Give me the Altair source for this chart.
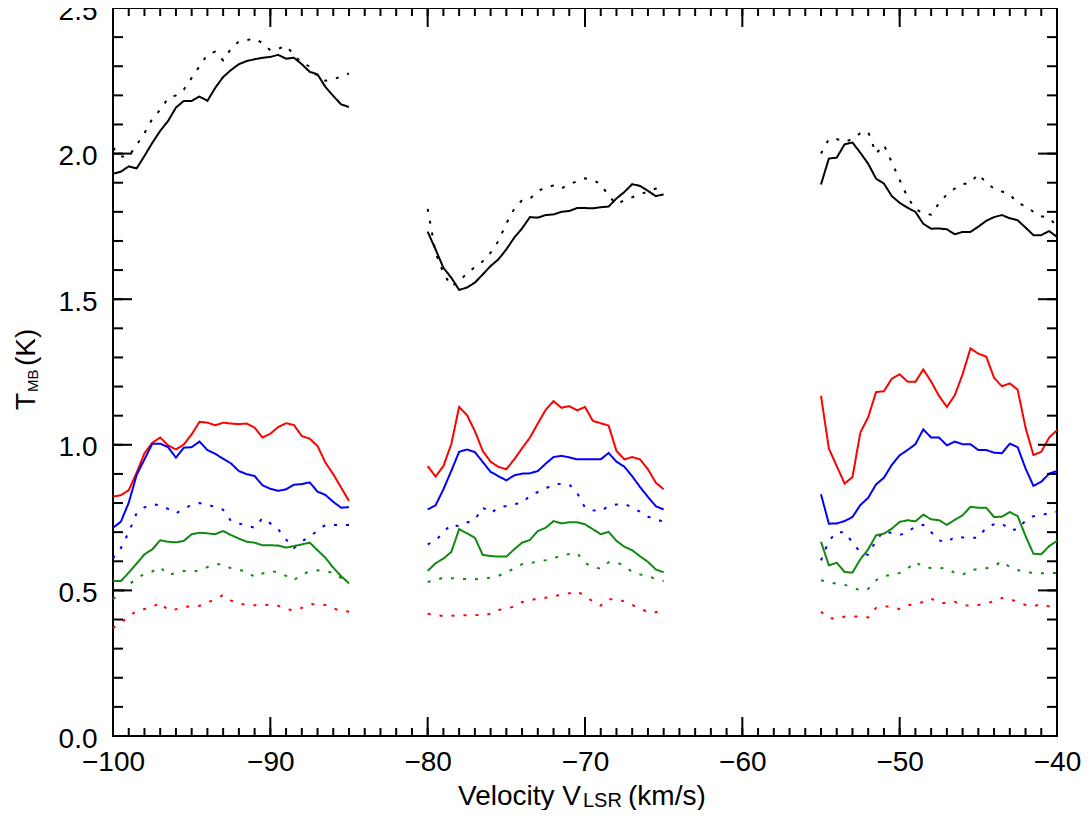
import altair as alt
import pandas as pd

# ---- data ----
SEG_START = [-100.0, -80.0, -55.0]   # first velocity of each observed segment
STEP = 0.5
NPTS = 31

BLACK_SOLID = [
    [1.931,1.938,1.956,1.949,1.992,2.037,2.078,2.112,2.158,2.181,2.181,2.196,2.181,2.226,2.263,2.287,2.307,2.318,2.324,2.329,2.332,2.339,2.326,2.329,2.307,2.281,2.272,2.229,2.198,2.169,2.160],
    [1.732,1.671,1.608,1.574,1.532,1.540,1.557,1.585,1.614,1.637,1.671,1.711,1.743,1.782,1.780,1.789,1.791,1.800,1.803,1.813,1.813,1.812,1.816,1.818,1.846,1.868,1.895,1.889,1.872,1.854,1.860],
    [1.894,1.983,1.986,2.032,2.038,2.003,1.965,1.914,1.897,1.854,1.831,1.814,1.800,1.759,1.742,1.743,1.740,1.723,1.731,1.731,1.749,1.769,1.782,1.789,1.778,1.771,1.746,1.720,1.720,1.734,1.714],
]
BLACK_DOTTED = [
    [2.02,1.99,1.99,2.03,2.07,2.12,2.15,2.19,2.20,2.22,2.26,2.30,2.34,2.35,2.32,2.36,2.385,2.39,2.395,2.38,2.355,2.36,2.37,2.34,2.31,2.30,2.265,2.25,2.255,2.265,2.275],
    [1.81,1.66,1.59,1.545,1.56,1.59,1.61,1.63,1.66,1.70,1.76,1.81,1.84,1.845,1.87,1.885,1.89,1.88,1.895,1.905,1.915,1.91,1.895,1.855,1.826,1.84,1.85,1.86,1.87,1.88,1.87],
    [2.00,2.05,2.05,2.04,2.05,2.07,2.075,2.00,2.03,1.97,1.91,1.85,1.81,1.795,1.79,1.83,1.86,1.88,1.895,1.90,1.93,1.90,1.88,1.87,1.86,1.83,1.82,1.80,1.785,1.78,1.75],
]
RED_SOLID = [
    [0.822,0.827,0.844,0.904,0.971,1.007,1.025,0.998,0.984,1.001,1.036,1.079,1.076,1.067,1.076,1.073,1.071,1.073,1.059,1.025,1.038,1.061,1.074,1.068,1.030,1.021,0.996,0.939,0.899,0.853,0.807],
    [0.927,0.891,0.927,1.002,1.130,1.102,1.047,0.979,0.942,0.924,0.916,0.950,0.988,1.025,1.073,1.120,1.150,1.127,1.133,1.118,1.130,1.082,1.074,1.066,0.979,0.950,0.958,0.950,0.916,0.870,0.847],
    [1.168,0.987,0.927,0.867,0.889,1.042,1.095,1.181,1.184,1.227,1.242,1.217,1.216,1.259,1.217,1.168,1.130,1.170,1.242,1.331,1.313,1.303,1.230,1.201,1.211,1.189,1.059,0.965,0.976,1.025,1.050],
]
BLUE_SOLID = [
    [0.715,0.736,0.801,0.896,0.950,1.004,1.004,0.992,0.956,0.990,0.992,1.011,0.982,0.969,0.952,0.936,0.910,0.899,0.893,0.861,0.849,0.842,0.847,0.863,0.865,0.871,0.839,0.828,0.804,0.784,0.786],
    [0.778,0.792,0.847,0.910,0.976,0.984,0.975,0.941,0.907,0.892,0.878,0.895,0.901,0.902,0.910,0.935,0.958,0.962,0.957,0.950,0.950,0.950,0.950,0.972,0.942,0.925,0.892,0.855,0.821,0.789,0.778],
    [0.830,0.729,0.730,0.738,0.752,0.793,0.818,0.864,0.887,0.931,0.964,0.982,1.002,1.053,1.025,1.025,0.998,1.011,1.002,1.002,0.982,0.982,0.973,0.971,1.004,0.992,0.919,0.859,0.873,0.901,0.910],
]
GREEN_SOLID = [
    [0.532,0.532,0.561,0.592,0.624,0.641,0.672,0.667,0.665,0.670,0.693,0.698,0.696,0.693,0.704,0.690,0.678,0.667,0.664,0.655,0.655,0.654,0.647,0.652,0.658,0.664,0.638,0.612,0.578,0.549,0.524],
    [0.567,0.593,0.609,0.632,0.710,0.696,0.681,0.622,0.618,0.616,0.616,0.641,0.664,0.673,0.704,0.715,0.738,0.730,0.734,0.734,0.727,0.710,0.693,0.701,0.670,0.650,0.638,0.617,0.598,0.572,0.562],
    [0.667,0.586,0.595,0.563,0.561,0.607,0.641,0.689,0.695,0.712,0.735,0.741,0.737,0.760,0.744,0.741,0.725,0.742,0.758,0.787,0.784,0.784,0.752,0.753,0.769,0.755,0.687,0.626,0.624,0.652,0.670],
]
BLUE_DOTTED = [
    [0.61,0.645,0.70,0.765,0.785,0.796,0.792,0.78,0.765,0.78,0.794,0.80,0.795,0.786,0.777,0.738,0.73,0.722,0.715,0.748,0.73,0.71,0.675,0.645,0.668,0.685,0.705,0.725,0.725,0.725,0.725],
    [0.658,0.67,0.70,0.727,0.72,0.733,0.742,0.785,0.765,0.784,0.79,0.796,0.80,0.825,0.838,0.85,0.864,0.866,0.864,0.835,0.784,0.775,0.772,0.79,0.795,0.797,0.785,0.77,0.753,0.745,0.735],
    [0.603,0.67,0.70,0.70,0.665,0.63,0.622,0.672,0.704,0.697,0.69,0.70,0.72,0.725,0.70,0.672,0.665,0.684,0.682,0.681,0.681,0.716,0.727,0.73,0.707,0.71,0.74,0.755,0.759,0.765,0.77],
]
GREEN_DOTTED = [
    [0.47,0.49,0.52,0.54,0.557,0.565,0.58,0.553,0.56,0.567,0.565,0.568,0.58,0.59,0.59,0.576,0.57,0.565,0.546,0.558,0.567,0.562,0.55,0.535,0.555,0.565,0.569,0.567,0.56,0.543,0.544],
    [0.529,0.535,0.544,0.542,0.540,0.539,0.538,0.540,0.544,0.55,0.562,0.575,0.59,0.594,0.599,0.604,0.61,0.62,0.625,0.628,0.595,0.58,0.575,0.597,0.596,0.585,0.563,0.555,0.548,0.54,0.532],
    [0.535,0.528,0.523,0.519,0.512,0.499,0.505,0.535,0.551,0.551,0.56,0.575,0.598,0.58,0.577,0.577,0.575,0.56,0.553,0.57,0.573,0.576,0.583,0.60,0.58,0.57,0.562,0.56,0.559,0.559,0.56],
]
RED_DOTTED = [
    [0.37,0.39,0.41,0.43,0.436,0.443,0.458,0.432,0.435,0.443,0.445,0.447,0.458,0.47,0.484,0.465,0.455,0.45,0.449,0.449,0.451,0.447,0.436,0.431,0.44,0.452,0.453,0.45,0.438,0.43,0.427],
    [0.42,0.415,0.412,0.413,0.414,0.415,0.416,0.414,0.42,0.433,0.437,0.445,0.46,0.466,0.472,0.475,0.478,0.487,0.49,0.497,0.48,0.462,0.448,0.47,0.47,0.462,0.45,0.438,0.425,0.425,0.432],
    [0.427,0.405,0.402,0.41,0.41,0.41,0.407,0.44,0.446,0.443,0.436,0.448,0.455,0.46,0.472,0.458,0.456,0.461,0.45,0.447,0.45,0.455,0.463,0.474,0.47,0.461,0.45,0.446,0.452,0.445,0.438],
]

X_MAJOR = [-100, -90, -80, -70, -60, -50, -40]
X_MINOR = list(range(-100, -39))
Y_MAJOR = [0.0, 0.5, 1.0, 1.5, 2.0, 2.5]
Y_MINOR = [0.0,0.1,0.2,0.3,0.4,0.5,0.6,0.7,0.8,0.9,1.0,1.1,1.2,1.3,1.4,1.5,1.6,1.7,1.8,1.9,2.0,2.1,2.2,2.3,2.4,2.5]

SERIES = [
    ("black", "solid", BLACK_SOLID), ("black", "dotted", BLACK_DOTTED),
    ("red", "solid", RED_SOLID), ("red", "dotted", RED_DOTTED),
    ("blue", "solid", BLUE_SOLID), ("blue", "dotted", BLUE_DOTTED),
    ("green", "solid", GREEN_SOLID), ("green", "dotted", GREEN_DOTTED),
]

rows = []
for color, style, segs in SERIES:
    for si, start in enumerate(SEG_START):
        vs = [start + STEP * i for i in range(NPTS)]
        for v, t in zip(vs, segs[si]):
            rows.append({"v": v, "T": t, "color": color, "style": style,
                         "line": f"{color}-{style}-{si}"})
df = pd.DataFrame(rows)

W, H = 944, 728
FONT = "Liberation Sans"

xscale = alt.Scale(domain=[-100, -40], nice=False, zero=False)
yscale = alt.Scale(domain=[0, 2.5], nice=False, zero=True)
xaxis = alt.Axis(values=X_MAJOR, ticks=False, domain=False, grid=False, title=None,
                 labelFont=FONT, labelFontSize=28, labelColor="black", labelPadding=12,
                 labelFlush=False, labelOverlap=False, format="d")
yaxis = alt.Axis(values=Y_MAJOR, ticks=False, domain=False, grid=False, title=None,
                 labelFont=FONT, labelFontSize=28, labelColor="black", labelPadding=16,
                 labelFlush=False, labelOverlap=False, format=".1f", labelOffset=3)
X = alt.X("v:Q", scale=xscale, axis=xaxis)
Y = alt.Y("T:Q", scale=yscale, axis=yaxis)

lines = alt.Chart(df).mark_line(strokeWidth=2).encode(
    x=X, y=Y,
    color=alt.Color("color:N", legend=None,
                    scale=alt.Scale(domain=["black", "red", "blue", "green"],
                                    range=["#000000", "#ff0000", "#0000ff", "#118811"])),
    strokeDash=alt.StrokeDash("style:N", legend=None,
                              scale=alt.Scale(domain=["solid", "dotted"],
                                              range=[[1, 0], [3, 9]])),
    detail="line:N",
)

xmaj = pd.DataFrame({"v": X_MAJOR})
xmin = pd.DataFrame({"v": X_MINOR})
ymaj = pd.DataFrame({"T": Y_MAJOR})
ymin = pd.DataFrame({"T": Y_MINOR})

def rule(data):
    return alt.Chart(data).mark_rule(color="black", strokeWidth=2)

ticks = [
    rule(xmaj).encode(x=X, y=alt.value(H), y2=alt.value(H - 19)),
    rule(xmaj).encode(x=X, y=alt.value(0), y2=alt.value(19)),
    rule(xmin).encode(x=X, y=alt.value(H), y2=alt.value(H - 8)),
    rule(xmin).encode(x=X, y=alt.value(0), y2=alt.value(8)),
    rule(ymaj).encode(y=Y, x=alt.value(0), x2=alt.value(19)),
    rule(ymaj).encode(y=Y, x=alt.value(W), x2=alt.value(W - 19)),
    rule(ymin).encode(y=Y, x=alt.value(0), x2=alt.value(10)),
    rule(ymin).encode(y=Y, x=alt.value(W), x2=alt.value(W - 10)),
]

one = pd.DataFrame({"a": [0]})

def label(text, x, y, size, angle=0):
    kw = dict(text=text, align="left", baseline="alphabetic", fontSize=size,
              font=FONT, color="black")
    if angle:
        kw["angle"] = angle
    return alt.Chart(one).mark_text(**kw).encode(x=alt.value(x), y=alt.value(y))

titles = [
    label("Velocity V", 345, 797, 28),
    label("LSR", 470, 799, 20),
    label("(km/s)", 515, 797, 28),
    label("T", -78, 402, 28, 270),
    label("MB", -75, 384, 15, 270),
    label("(K)", -78, 358, 28, 270),
]

chart = alt.layer(lines, *ticks, *titles).properties(
    width=W, height=H,
    padding={"left": 105, "top": 0, "right": 26, "bottom": 74},
    autosize=alt.AutoSizeParams(type="none"),
).configure_view(stroke="black", strokeWidth=2)

chart.save("out.html", embed_options={"renderer": "svg", "actions": False})
